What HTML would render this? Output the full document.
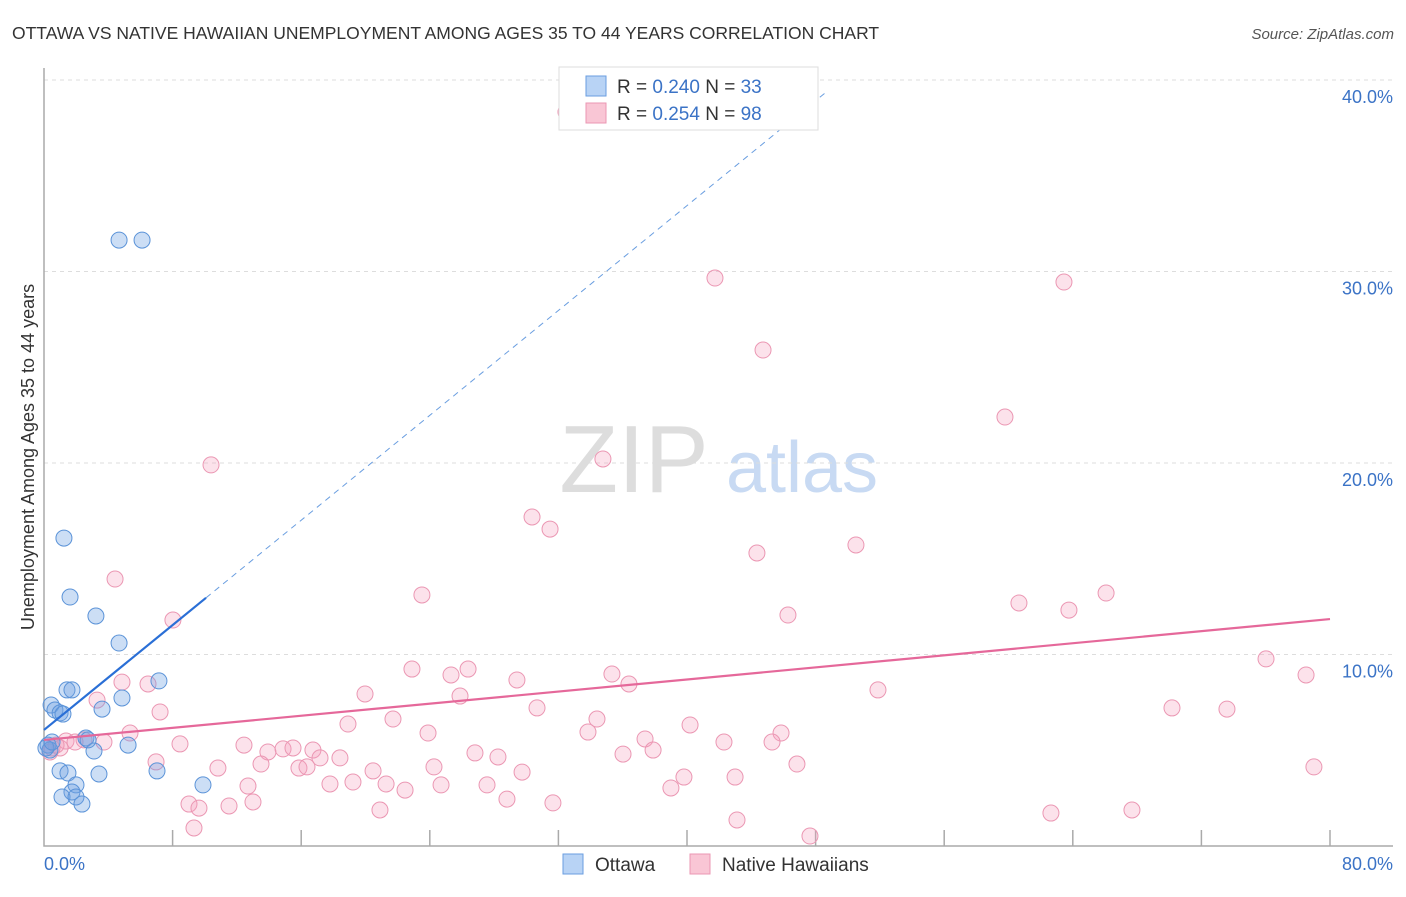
<!DOCTYPE html>
<html><head><meta charset="utf-8"><style>
body{margin:0;background:#fff;font-family:"Liberation Sans",sans-serif}
svg text{font-family:"Liberation Sans",sans-serif}
</style></head><body>
<svg id="c" width="1406" height="892" xmlns="http://www.w3.org/2000/svg">
<text x="12" y="39" font-size="17.5" fill="#333">OTTAWA VS NATIVE HAWAIIAN UNEMPLOYMENT AMONG AGES 35 TO 44 YEARS CORRELATION CHART</text>
<text x="1394" y="39" font-size="15" fill="#555" font-style="italic" text-anchor="end">Source: ZipAtlas.com</text>
<g>
<text x="634" y="492" font-size="96" font-family="Liberation Serif" fill="#ddd" text-anchor="middle">ZIP</text>
<text x="802" y="492" font-size="72" fill="#c8daf3" text-anchor="middle">atlas</text>
</g>
<g id="grid"></g>
<g id="axes"></g>
<g id="pts"></g>
<g id="lines"></g>
<text transform="translate(34,457) rotate(-90)" font-size="18" fill="#333" text-anchor="middle">Unemployment Among Ages 35 to 44 years</text>
<text x="44" y="870" font-size="18" fill="#3b73c6">0.0%</text>
<text x="1393" y="870" font-size="18" fill="#3b73c6" text-anchor="end">80.0%</text>
<g>
<rect x="559" y="67" width="259" height="63" fill="#fff" stroke="#ddd"/>
<rect x="586" y="76" width="20" height="20" fill="#b8d3f5" stroke="#6a9ee0"/>
<text x="617" y="93" font-size="19" fill="#333">R = <tspan fill="#3b73c6">0.240</tspan>    N = <tspan fill="#3b73c6">33</tspan></text>
<rect x="586" y="103" width="20" height="20" fill="#f9c6d5" stroke="#eb97b3"/>
<text x="617" y="120" font-size="19" fill="#333">R = <tspan fill="#3b73c6">0.254</tspan>    N = <tspan fill="#3b73c6">98</tspan></text>
</g>
<g>
<rect x="563" y="854" width="20" height="20" fill="#b8d3f5" stroke="#6a9ee0"/>
<text x="595" y="871" font-size="19" fill="#333">Ottawa</text>
<rect x="690" y="854" width="20" height="20" fill="#f9c6d5" stroke="#eb97b3"/>
<text x="722" y="871" font-size="19" fill="#333">Native Hawaiians</text>
</g>
</svg>
<script>
const yTicks=[10,20,30,40];
const yTickLabels=["10.0%","20.0%","30.0%","40.0%"];
const xTicks=[8,16,24,32,40,48,56,64,72,80];
const ottawaX=[4.67,6.10,1.24,1.62,3.23,4.67,7.15,1.43,1.74,4.85,3.61,0.44,0.68,1.0,1.18,2.61,5.23,0.25,0.37,3.11,7.03,1.0,1.49,3.42,1.99,1.74,1.12,1.99,2.36,9.89,0.12,0.5,2.74];
const ottawaY=[31.64,31.64,16.08,13.0,12.01,10.6,8.62,8.15,8.15,7.73,7.15,7.36,7.1,6.95,6.89,5.64,5.27,5.27,5.01,4.96,3.92,3.92,3.81,3.76,3.19,2.82,2.56,2.56,2.19,3.19,5.12,5.43,5.54];
const hawX=[32.47,41.74,63.45,44.73,59.78,10.39,34.77,30.36,31.48,44.35,50.51,4.42,8.02,23.51,60.65,63.76,66.07,46.28,76.02,78.51,22.89,26.38,25.32,29.42,35.33,36.39,4.85,6.47,3.3,7.22,19.97,25.88,51.88,30.67,70.17,73.59,18.91,21.71,34.4,40.19,23.89,33.84,45.85,8.46,12.44,13.93,14.87,15.49,16.73,17.17,18.41,26.81,28.24,37.39,37.89,36.02,42.3,45.29,5.35,1.0,1.37,0.75,1.93,2.49,3.73,6.97,10.82,13.5,15.86,16.36,20.47,24.26,29.74,39.81,42.99,46.84,79.0,12.69,17.79,19.22,21.28,22.46,24.7,27.56,39.0,9.02,9.64,11.51,13.0,28.8,31.66,20.9,62.64,67.68,43.11,9.33,47.65,0.37,0.5];
const hawY=[38.33,29.66,29.45,25.9,22.4,19.9,20.21,17.18,16.55,15.3,15.72,13.94,11.8,13.11,12.69,12.32,13.21,12.06,9.77,8.93,9.24,9.24,8.93,8.67,8.98,8.46,8.56,8.46,7.62,7.0,7.94,7.83,8.15,7.21,7.21,7.15,6.37,6.63,6.63,6.32,5.9,5.95,5.9,5.33,5.27,4.91,5.07,5.12,5.01,4.6,4.6,4.86,4.65,5.59,5.01,4.8,5.43,5.43,5.9,5.12,5.48,5.27,5.43,5.54,5.43,4.39,4.07,4.28,4.07,4.13,3.92,4.13,3.86,3.6,3.6,4.28,4.13,3.13,3.24,3.34,3.24,2.92,3.19,3.19,3.03,2.19,1.98,2.09,2.3,2.45,2.25,1.88,1.72,1.88,1.36,0.94,0.52,4.91,5.12];
const ottawaTrend=[0,6.06,10.08,12.96,48.6,38.6];
const hawTrend=[0,5.54,80,11.85];
const NS="http://www.w3.org/2000/svg";
const sx=v=>44+v*16.075, sy=v=>846-v*19.15;
function mk(t,a,p){const e=document.createElementNS(NS,t);for(const k in a)e.setAttribute(k,a[k]);p.appendChild(e);return e;}
const grid=document.getElementById('grid'),axes=document.getElementById('axes'),pts=document.getElementById('pts'),lines=document.getElementById('lines');
yTicks.forEach((v,i)=>{
 const l=mk('line',{x1:44,x2:1393,y1:sy(v),y2:sy(v),stroke:'#ddd','stroke-dasharray':'4,4'},grid);
 
 
 const t=mk('text',{x:1393,y:sy(v)+23,'font-size':18,fill:'#3b73c6','text-anchor':'end'},grid);
 t.textContent=yTickLabels[i];
 
 
});
const ax=mk('path',{d:'M44 68V846H1393',fill:'none',stroke:'#aaa','stroke-width':1.5},axes);


xTicks.forEach(v=>{
 const l=mk('line',{x1:sx(v),x2:sx(v),y1:830,y2:846,stroke:'#aaa','stroke-width':1.5},axes);
 
 
});
hawX.forEach((x,i)=>{
 const c=mk('circle',{cx:sx(x),cy:sy(hawY[i]),r:8,fill:'rgba(244,160,188,0.3)',stroke:'#eb97b3','stroke-width':1},pts);
 
 
});
ottawaX.forEach((x,i)=>{
 const c=mk('circle',{cx:sx(x),cy:sy(ottawaY[i]),r:8,fill:'rgba(110,160,225,0.35)',stroke:'#5b93d8','stroke-width':1},pts);
 
 
});
const ot=ottawaTrend;
const l1=mk('line',{x1:sx(ot[0]),y1:sy(ot[1]),x2:sx(ot[2]),y2:sy(ot[3]),stroke:'#2a6fd6','stroke-width':2.2},lines);


const slope=(ot[3]-ot[1])/(ot[2]-ot[0]);
const l2=mk('line',{x1:sx(ot[2]),y1:sy(ot[3]),x2:sx(ot[4]),y2:sy(ot[1]+slope*ot[4]),stroke:'#6a9ee0','stroke-width':1,'stroke-dasharray':'6,5'},lines);


const l3=mk('line',{x1:sx(hawTrend[0]),y1:sy(hawTrend[1]),x2:sx(hawTrend[2]),y2:sy(hawTrend[3]),stroke:'#e5689a','stroke-width':2.2},lines);


</script>
</body></html>
